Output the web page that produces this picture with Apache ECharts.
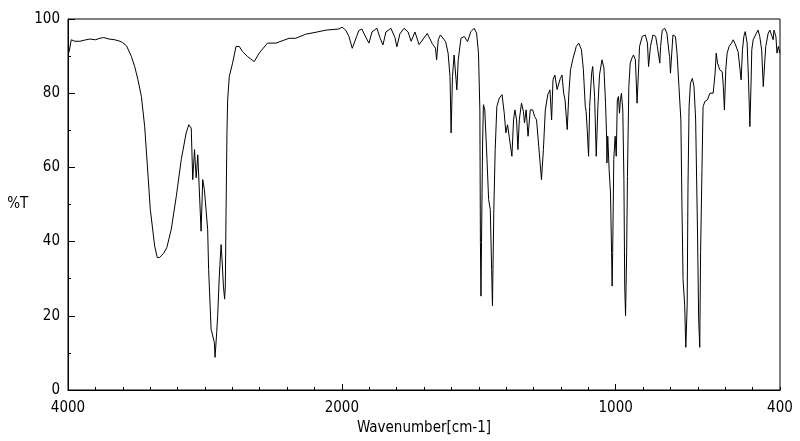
<!DOCTYPE html>
<html>
<head>
<meta charset="utf-8">
<script src="https://cdn.jsdelivr.net/npm/echarts@6/dist/echarts.min.js"></script>
<style>
  html, body { margin: 0; padding: 0; background: #fff; }
  #main { width: 800px; height: 441px; }
</style>
</head>
<body>
<div id="main"></div>
<script>
// IR spectrum, %T against wavenumber (cm-1)
var wavenumbers = [
  3993, 3976, 3950, 3913, 3880, 3840, 3800, 3767, 3740, 3700, 3658, 3620, 3600, 3573, 3537, 3513,
  3489, 3464, 3440, 3420, 3399, 3367, 3348, 3331, 3302, 3278, 3246, 3209, 3173, 3137, 3118, 3100,
  3089, 3076, 3064, 3052, 3040, 3028, 3016, 3004, 2991, 2980, 2973, 2962, 2955, 2943, 2931, 2926,
  2914, 2907, 2895, 2882, 2875, 2865, 2856, 2851, 2846, 2839, 2834, 2822, 2798, 2773, 2749, 2725,
  2689, 2640, 2604, 2543, 2482, 2471, 2385, 2337, 2264, 2167, 2118, 2022,
  1999, 1986, 1974, 1962, 1956, 1946, 1938, 1927, 1912, 1901, 1890, 1872, 1861, 1850, 1839, 1821,
  1806, 1799, 1788, 1773, 1758, 1747, 1733, 1718, 1688, 1670, 1658, 1654, 1648, 1640, 1621, 1612,
  1605, 1601, 1596, 1590, 1584, 1580, 1575, 1565, 1553, 1541, 1529, 1517, 1508, 1501, 1496, 1494,
  1492, 1490, 1486, 1483, 1478, 1470, 1464, 1458, 1453, 1450, 1445, 1440, 1434, 1425, 1415, 1407,
  1401, 1395, 1389, 1379, 1373, 1368, 1362, 1357, 1352, 1344, 1337, 1333, 1327, 1320, 1312, 1303,
  1296, 1289, 1281, 1271, 1264, 1257, 1248, 1240, 1234, 1229, 1222, 1214, 1209, 1202, 1196, 1190,
  1185, 1177, 1171, 1165, 1157, 1144, 1135, 1125, 1118, 1111, 1108, 1104, 1099, 1095, 1088, 1084,
  1077, 1071, 1065, 1059, 1050, 1043, 1037, 1033, 1032, 1029, 1024, 1019, 1015, 1013, 1011, 1007,
  1002, 998, 994, 990, 986, 983, 979, 974, 970, 967, 964, 960, 957, 952, 947, 941,
  935, 928, 922, 917, 913, 903, 892, 884, 880, 873, 864, 854, 848, 839, 836, 830,
  821, 813, 805, 803, 800, 791, 782, 776, 769, 762, 758, 754, 748, 744, 739, 736,
  732, 727, 720, 714, 708, 701, 697, 693, 690, 685, 681, 674, 665, 656, 644, 637,
  633, 628, 620, 611, 607, 603, 598, 593, 586, 577, 571, 565, 559, 553, 547, 542,
  537, 532, 527, 520, 515, 510, 506, 503, 498, 492, 486, 480, 474, 467, 461, 456,
  452, 443, 437, 431, 425, 422, 415, 411, 406, 401
];
var transmittance = [
  91.0, 94.4, 94.0, 94.0, 94.3, 94.6, 94.4, 94.8, 95.0, 94.6, 94.4, 94.0, 93.6, 92.8, 89.9, 87.2,
  83.6, 79.1, 71.0, 60.3, 48.7, 38.8, 35.7, 35.7, 36.8, 38.4, 43.3, 52.2, 62.1, 69.3, 71.5, 70.6,
  56.7, 64.8, 57.2, 63.4, 63.4, 42.8, 56.7, 54.0, 54.0, 43.3, 32.5, 22.7, 16.4, 16.4, 12.8, 8.8,
  15.5, 20.0, 30.7, 39.2, 35.2, 28.0, 24.5, 28.0, 46.8, 69.3, 78.2, 84.5, 88.1, 92.6, 92.6, 91.2,
  89.9, 88.5, 90.8, 93.5, 93.5, 93.9, 94.8, 94.8, 95.9, 96.6, 97.0, 97.3,
  97.8, 97.0, 95.3, 92.1, 91.8, 95.3, 96.9, 97.3, 95.0, 93.5, 96.5, 97.5, 95.0, 93.0, 96.5, 97.5,
  95.0, 92.5, 96.0, 97.5, 96.5, 94.0, 96.5, 93.1, 96.1, 93.4, 92.1, 89.0, 94.4, 95.7, 93.9, 90.8,
  84.5, 69.3, 84.5, 90.3, 90.8, 80.9, 89.0, 94.8, 95.3, 93.9, 96.6, 97.5, 96.2, 90.8, 75.5, 39.7,
  25.3, 39.7, 66.6, 76.9, 75.5, 62.1, 51.3, 48.7, 32.5, 22.7, 48.7, 64.8, 76.4, 78.7, 79.6, 74.6,
  69.3, 71.5, 68.4, 63.0, 72.8, 75.5, 72.8, 64.8, 72.8, 77.3, 75.1, 72.0, 75.5, 68.4, 75.5, 75.5,
  73.7, 72.8, 65.7, 56.7, 64.8, 75.5, 79.6, 80.9, 72.8, 83.6, 84.9, 81.0, 81.4, 84.0, 84.9, 80.0,
  78.2, 70.2, 80.0, 86.3, 89.0, 92.6, 93.5, 91.7, 86.3, 76.4, 75.1, 70.2, 63.0, 76.4, 85.4, 87.2,
  79.1, 63.0, 76.4, 85.0, 89.0, 86.8, 77.3, 67.9, 61.2, 68.4, 59.4, 53.1, 37.0, 28.0, 37.0, 62.1,
  68.4, 63.0, 78.2, 79.1, 74.6, 78.2, 80.0, 75.5, 56.7, 28.0, 20.0, 37.0, 57.6, 81.8, 88.1, 89.4,
  90.3, 89.0, 77.3, 85.4, 92.6, 95.3, 95.7, 93.5, 87.2, 92.6, 95.7, 95.3, 92.6, 88.1, 92.6, 97.0,
  97.5, 96.2, 90.8, 89.9, 85.4, 95.7, 95.3, 90.8, 81.8, 72.8, 49.5, 29.8, 22.7, 11.5, 22.7, 54.9,
  76.4, 82.7, 84.0, 81.8, 72.8, 41.5, 19.1, 11.5, 37.0, 59.4, 76.4, 77.8, 78.2, 80.0, 80.0, 85.4,
  90.8, 88.1, 86.3, 85.8, 81.8, 75.5, 86.3, 90.8, 92.6, 93.5, 94.4, 93.5, 93.0, 91.2, 91.7, 83.6,
  91.7, 95.3, 96.6, 93.5, 83.6, 71.0, 81.8, 91.7, 94.4, 94.8, 96.2, 97.0, 95.3, 91.7, 81.8, 88.1,
  92.6, 96.2, 97.0, 97.5, 94.4, 97.0, 95.3, 90.8, 92.6, 90.8
];
var xLabelValues = [4000, 2000, 1000, 400];
var yTicks = [0, 20, 40, 60, 80, 100];

// the spectrometer compresses 4000-2000 to half scale: map cm-1 to axis position
function toPos(wn) { return wn > 2000 ? 2000 + (wn - 2000) / 2 : wn; }
function fromPos(p) { return p > 2000 ? 2000 + (p - 2000) * 2 : p; }

var tickPos = [];
for (var p = 400; p <= 3000; p += 100) tickPos.push(p);

var seriesData = wavenumbers.map(function (wn, i) { return [toPos(wn), transmittance[i]]; });

var font = '"DejaVu Sans Condensed", "Liberation Sans Narrow", sans-serif';
var chart = echarts.init(document.getElementById('main'), null, { renderer: 'canvas' });
chart.setOption({
  animation: false,
  backgroundColor: '#fff',
  grid: { left: 68, right: 20, top: 19, bottom: 50, show: true, borderColor: '#000', borderWidth: 1 },
  xAxis: [{
    type: 'value', min: 400, max: 3000, inverse: true,
    name: 'Wavenumber[cm-1]', nameLocation: 'middle', nameGap: 31,
    nameTextStyle: { color: '#000', fontFamily: font, fontSize: 15 },
    axisLine: { lineStyle: { color: '#000' } },
    axisTick: { inside: true, length: 3, customValues: tickPos, lineStyle: { color: '#000' } },
    axisLabel: {
      color: '#000', fontFamily: font, fontSize: 15, margin: 11,
      customValues: xLabelValues.map(toPos),
      formatter: function (v) { return String(Math.round(fromPos(v))); }
    },
    splitLine: { show: false }
  }, {
    type: 'value', min: 400, max: 3000, inverse: true, position: 'bottom',
    axisLine: { show: false },
    axisTick: { inside: true, length: 6, customValues: [2000, 1000], lineStyle: { color: '#000' } },
    axisLabel: { show: false },
    splitLine: { show: false }
  }],
  yAxis: {
    type: 'value', min: 0, max: 100, interval: 20,
    name: '%T', nameLocation: 'middle', nameRotate: 0, nameGap: 38,
    nameTextStyle: { color: '#000', fontFamily: font, fontSize: 15, align: 'right' },
    axisLine: { show: true, lineStyle: { color: '#000' } },
    axisTick: { show: true, inside: true, length: 7, lineStyle: { color: '#000' } },
    minorTick: { show: true, splitNumber: 2, length: 3, lineStyle: { color: '#000' } },
    axisLabel: {
      color: '#000', fontFamily: font, fontSize: 15, margin: 8,
      customValues: yTicks
    },
    splitLine: { show: false }
  },
  series: [{
    type: 'line', xAxisIndex: 0, data: seriesData,
    showSymbol: false, symbol: 'none',
    lineStyle: { color: '#000', width: 1 },
    silent: true
  }]
});
</script>
</body>
</html>
